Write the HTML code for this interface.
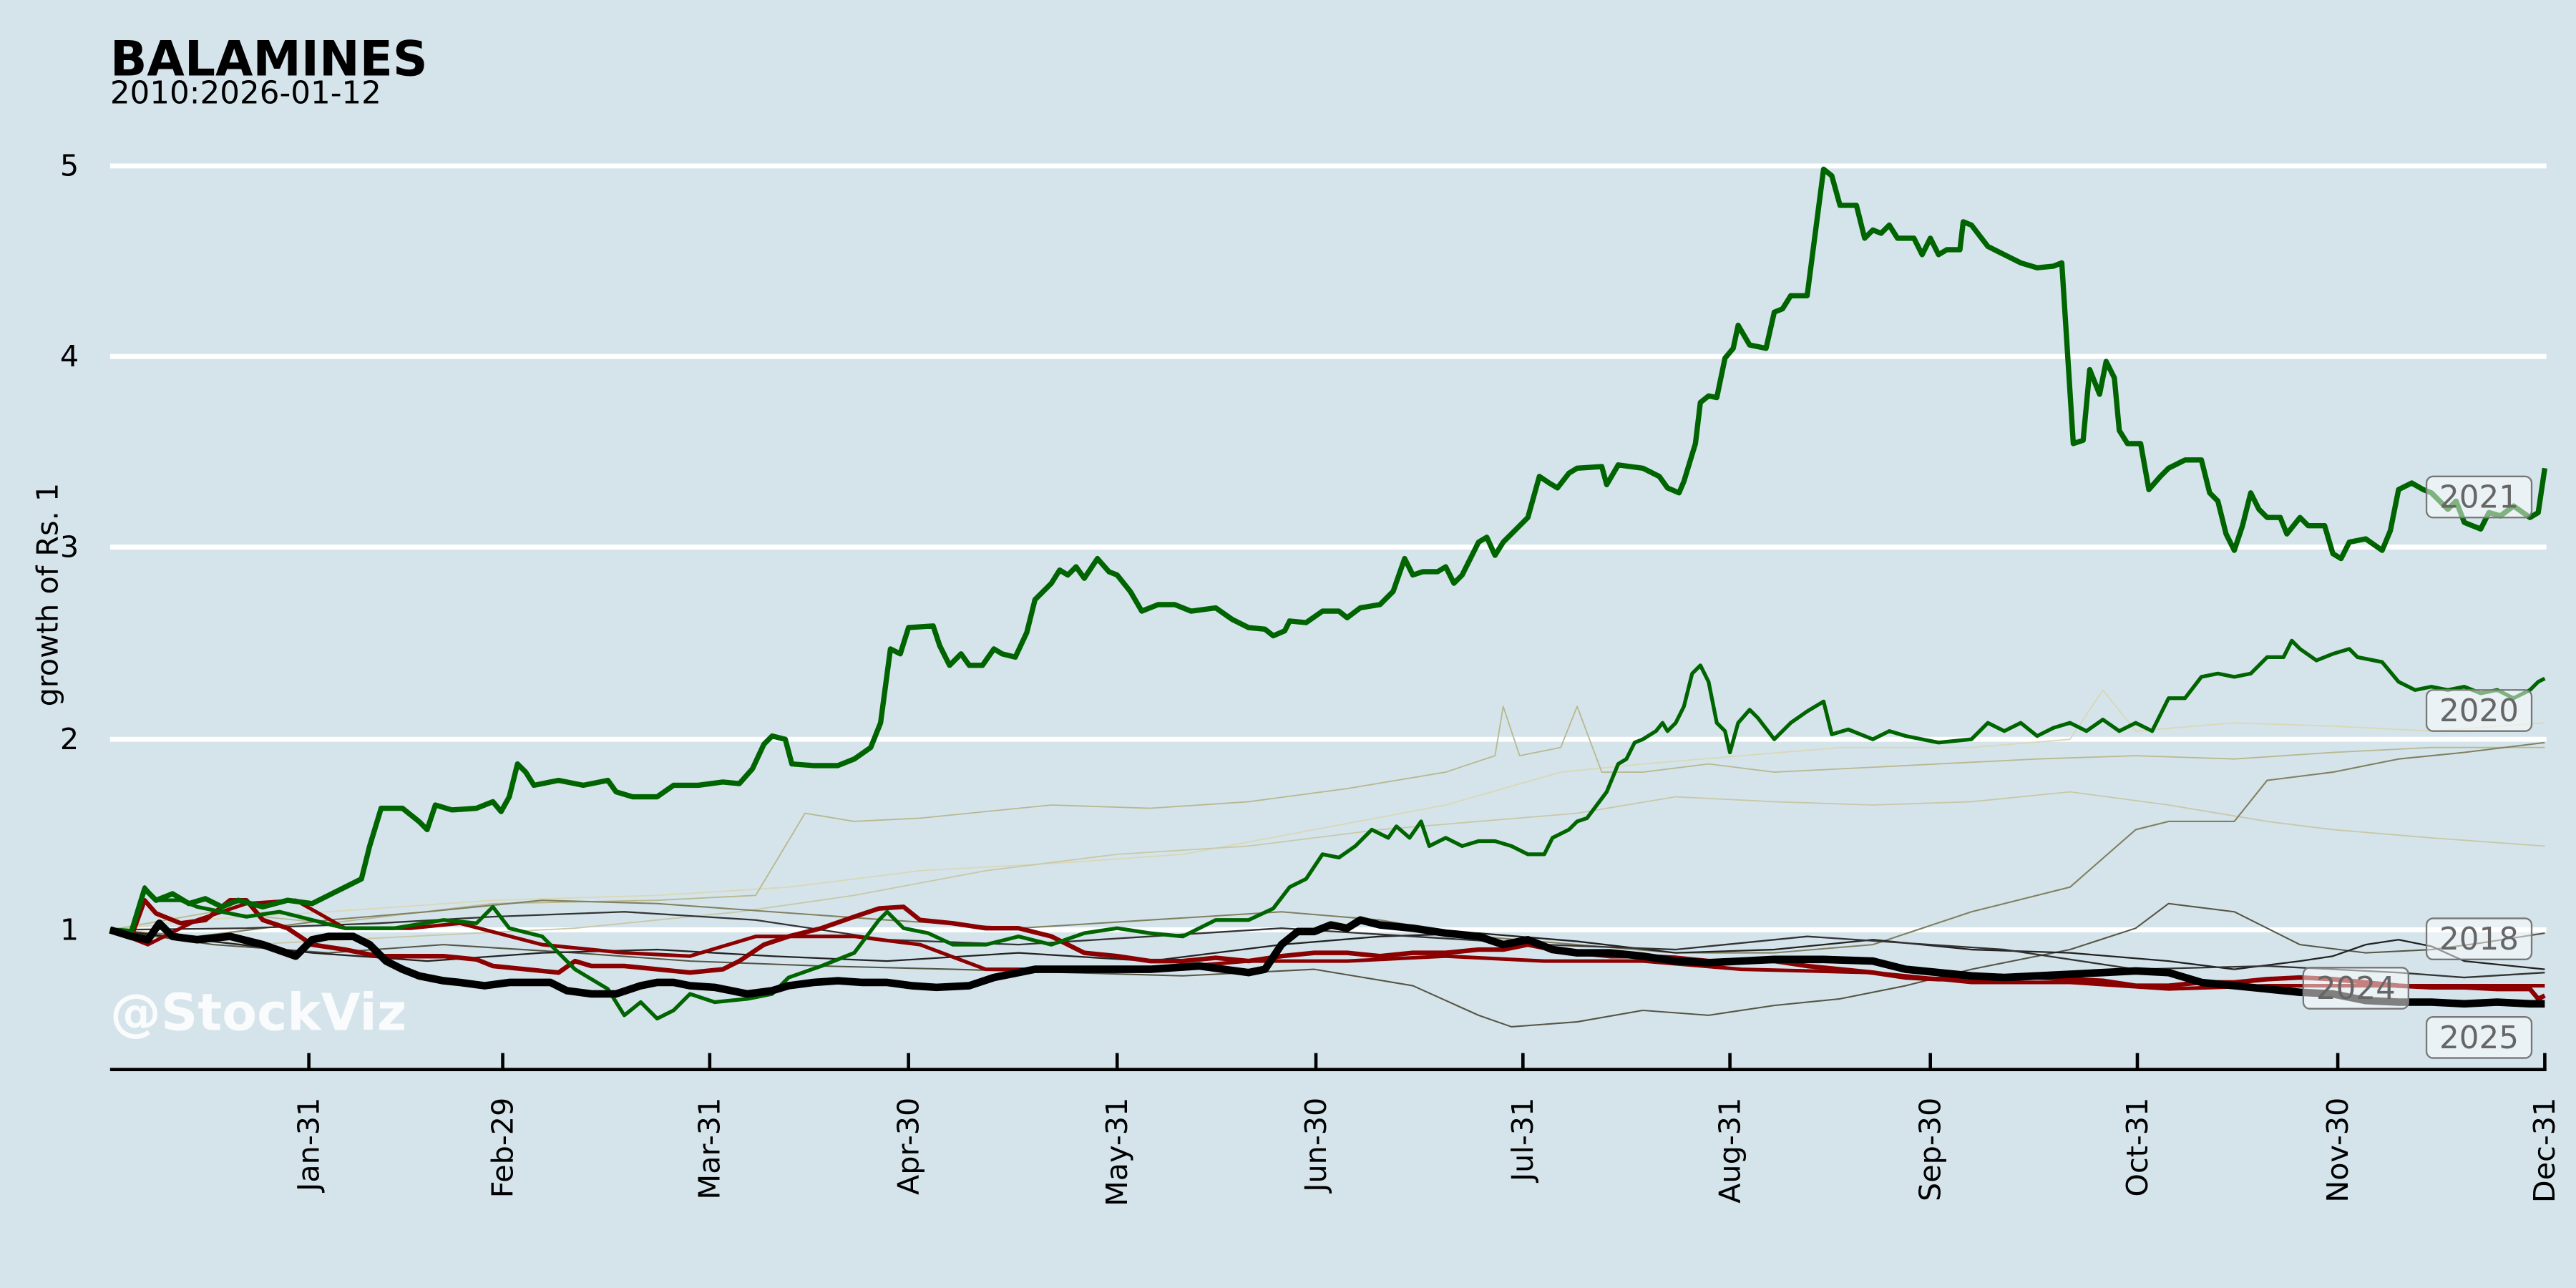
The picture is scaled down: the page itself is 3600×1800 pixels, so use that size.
<!DOCTYPE html>
<html><head><meta charset="utf-8"><style>html,body{margin:0;padding:0;background:#d5e4eb}svg{display:block}</style></head><body>
<svg width="3600" height="1800" viewBox="0 0 1568 784" xmlns="http://www.w3.org/2000/svg" font-family="DejaVu Sans, Liberation Sans, sans-serif">
<rect width="1568" height="784" fill="#d5e4eb"/>
<g stroke="#fff" stroke-width="3">
<line x1="67" x2="1550" y1="101" y2="101"/><line x1="67" x2="1550" y1="217" y2="217"/><line x1="67" x2="1550" y1="333" y2="333"/><line x1="67" x2="1550" y1="450" y2="450"/><line x1="67" x2="1550" y1="566" y2="566"/>
</g>
<g font-size="18" fill="#000" text-anchor="end">
<text x="48" y="107">5</text><text x="48" y="223">4</text><text x="48" y="339">3</text><text x="48" y="456">2</text><text x="48" y="572">1</text>
</g>
<text transform="translate(35,362) rotate(-90)" font-size="18" text-anchor="middle">growth of Rs. 1</text>
<text x="67" y="46" font-size="29.5" font-weight="bold">BALAMINES</text>
<text x="67" y="63" font-size="19">2010:2026-01-12</text>
<g fill="none" stroke-linejoin="round">
<polyline stroke="#d8d8b8" stroke-width="0.8" points="67,566 120,560 200,555 300,548 400,545 480,540 560,530 650,525 720,520 800,505 880,490 950,470 1000,465 1060,460 1120,455 1200,455 1260,450 1280,420 1300,445 1360,440 1420,442 1480,445 1549,440"/>
<polyline stroke="#b8b890" stroke-width="0.8" points="67,566 130,555 200,562 300,550 400,548 460,545 490,495 520,500 560,498 640,490 700,492 760,488 820,480 880,470 910,460 915,430 925,460 950,455 960,430 975,470 1000,470 1040,465 1080,470 1120,468 1180,465 1240,462 1300,460 1360,462 1420,458 1480,455 1549,455"/>
<polyline stroke="#c8c8a8" stroke-width="0.8" points="67,566 150,575 250,570 350,565 450,555 520,545 600,530 680,520 760,515 840,505 900,500 960,495 1020,485 1080,488 1140,490 1200,488 1260,482 1320,490 1380,500 1420,505 1480,510 1549,515"/>
<polyline stroke="#808060" stroke-width="0.9" points="67,566 120,570 200,560 260,555 330,548 400,550 470,555 540,560 620,565 700,560 780,555 840,560 900,570 960,575 1020,580 1080,580 1140,575 1200,555 1260,540 1300,505 1320,500 1360,500 1380,475 1420,470 1460,462 1500,458 1549,452"/>
<polyline stroke="#555545" stroke-width="0.9" points="67,566 130,575 200,580 270,575 350,580 420,585 500,588 580,590 650,592 720,594 800,590 860,600 900,618 920,625 960,622 1000,615 1040,618 1080,612 1120,608 1160,600 1200,590 1260,578 1300,565 1320,550 1360,555 1400,575 1440,580 1480,578 1510,574 1549,568"/>
<polyline stroke="#222" stroke-width="1" points="67,566 120,572 190,580 260,585 330,580 400,578 470,582 540,585 620,580 700,585 780,575 840,570 900,568 960,573 1020,580 1080,578 1140,572 1200,578 1260,580 1320,585 1360,590 1400,585 1420,582 1440,575 1460,572 1480,576 1500,585 1549,590"/>
<polyline stroke="#333" stroke-width="1" points="67,566 150,565 230,562 300,558 380,555 460,560 540,572 620,575 700,570 780,565 860,570 940,575 1020,578 1100,570 1160,574 1220,578 1300,590 1380,588 1420,590 1460,592 1500,595 1549,592"/>
<polyline stroke="#8b0000" stroke-width="2.2" points="67,566 90,575 120,560 150,550 180,548 210,565 250,565 280,562 330,575 380,580 420,582 460,570 520,570 560,575 600,590 660,590 700,590 760,585 820,585 880,582 940,585 1000,585 1060,590 1140,592 1200,598 1260,598 1320,602 1380,600 1440,600 1500,600 1549,600"/>
<polyline stroke="#8b0000" stroke-width="2.8" points="67,566 80,570 88,548 95,556 110,562 125,560 140,548 150,548 160,560 175,565 190,575 210,578 230,582 250,582 270,582 290,584 300,588 320,590 340,592 350,585 360,588 380,588 400,590 420,592 440,590 450,585 465,575 480,570 500,565 520,558 535,553 550,552 560,560 580,562 600,565 620,565 640,570 660,580 680,582 700,585 720,585 740,583 760,585 780,582 800,580 820,580 840,582 860,580 880,580 900,578 915,578 930,575 945,578 960,580 980,582 1000,582 1020,583 1040,585 1060,585 1080,585 1100,588 1120,590 1140,592 1160,595 1180,596 1200,596 1220,596 1240,595 1260,596 1280,597 1300,600 1320,600 1340,598 1360,598 1380,596 1400,595 1420,596 1440,598 1460,600 1480,601 1500,601 1520,602 1540,602 1545,608 1549,606"/>
<polyline stroke="#006400" stroke-width="2.3" points="67,566 80,568 88,540 95,548 110,548 120,552 135,555 150,558 170,555 190,560 210,565 240,565 270,560 290,562 300,552 310,565 330,570 350,590 370,602 380,618 390,610 400,620 410,615 420,605 435,610 455,608 470,605 480,595 500,588 520,580 535,560 540,555 550,565 565,568 580,575 600,575 620,570 640,575 660,568 680,565 700,568 720,570 740,560 760,560 775,553 785,540 795,535 805,520 815,522 825,515 835,505 845,510 850,503 858,510 865,500 870,515 880,510 890,515 900,512 910,512 920,515 930,520 940,520 945,510 955,505 960,500 966,498 972,490 978,482 985,465 990,462 995,452 1000,450 1008,445 1012,440 1015,445 1020,440 1025,430 1030,410 1035,405 1040,415 1045,440 1050,445 1053,458 1058,440 1065,432 1070,437 1080,450 1090,440 1100,433 1110,427 1115,447 1125,444 1140,450 1150,445 1160,448 1170,450 1180,452 1200,450 1210,440 1220,445 1230,440 1240,448 1250,443 1260,440 1270,445 1280,438 1290,445 1300,440 1310,445 1320,425 1330,425 1340,412 1350,410 1360,412 1370,410 1380,400 1390,400 1395,390 1400,395 1410,402 1420,398 1430,395 1435,400 1450,403 1460,415 1470,420 1480,418 1490,420 1500,418 1510,422 1520,420 1530,425 1540,420 1545,415 1549,413"/>
<polyline stroke="#006400" stroke-width="3.2" points="67,566 80,567 88,541 95,548 105,544 115,550 125,547 135,552 145,548 160,552 175,548 190,550 200,545 210,540 220,535 225,515 232,492 245,492 255,500 260,505 265,490 275,493 290,492 300,488 305,494 310,485 315,465 320,470 325,478 340,475 355,478 370,475 375,482 385,485 400,485 410,478 425,478 440,476 450,477 458,468 465,453 470,448 478,450 482,465 495,466 510,466 520,462 530,455 536,440 542,395 548,398 553,382 568,381 572,393 578,405 585,398 590,405 598,405 605,395 610,398 618,400 625,385 630,365 640,355 645,347 650,350 655,345 660,352 668,340 675,348 680,350 688,360 695,372 705,368 715,368 725,372 740,370 750,377 760,382 770,383 775,387 782,384 785,378 795,379 805,372 815,372 820,376 828,370 840,368 848,360 855,340 860,350 866,348 875,348 880,345 885,355 890,350 900,330 905,327 910,338 915,330 920,325 930,315 937,290 943,294 948,297 955,288 960,285 975,284 978,295 985,283 1000,285 1010,290 1015,297 1022,300 1025,293 1032,270 1035,245 1040,241 1045,242 1050,218 1055,212 1058,198 1065,210 1075,212 1080,190 1085,188 1090,180 1100,180 1110,103 1115,107 1120,125 1130,125 1135,145 1140,140 1145,142 1150,137 1155,145 1165,145 1170,155 1175,145 1180,155 1185,152 1193,152 1195,135 1200,137 1210,150 1220,155 1230,160 1240,163 1250,162 1255,160 1262,270 1268,268 1272,225 1278,240 1282,220 1287,230 1290,262 1295,270 1303,270 1308,298 1315,290 1320,285 1330,280 1340,280 1345,300 1350,305 1355,325 1360,335 1365,320 1370,300 1375,310 1380,315 1388,315 1392,325 1400,315 1405,320 1415,320 1420,337 1425,340 1430,330 1440,328 1450,335 1455,323 1460,298 1468,294 1475,298 1480,300 1490,310 1495,305 1500,318 1510,322 1515,312 1522,314 1530,308 1540,315 1545,312 1549,285"/>
<polyline stroke="#000" stroke-width="4.6" points="67,566 80,570 90,572 97,562 105,570 120,572 140,570 160,575 180,582 190,572 200,570 215,570 225,575 235,585 245,590 255,594 270,597 280,598 295,600 310,598 320,598 335,598 345,603 360,605 375,605 390,600 400,598 410,598 420,600 435,601 455,605 470,603 480,600 495,598 510,597 525,598 540,598 555,600 570,601 590,600 605,595 620,592 630,590 650,590 670,590 700,590 730,588 760,592 770,590 780,575 790,567 800,567 810,563 820,565 828,560 840,563 860,565 880,568 900,570 915,575 930,572 945,578 960,580 980,580 1000,582 1020,585 1040,586 1060,585 1080,584 1110,584 1140,585 1160,590 1180,592 1200,594 1220,595 1240,594 1260,593 1280,592 1300,591 1320,592 1340,598 1360,600 1380,602 1400,604 1420,605 1440,609 1460,610 1480,610 1500,611 1520,610 1540,611 1549,611"/>
</g>
<g font-size="19" fill="#666" text-anchor="middle">
<rect x="1477" y="290" width="64" height="25" rx="4" fill="#fff" fill-opacity="0.5" stroke="#777"/><text x="1509" y="309">2021</text>
<rect x="1477" y="420" width="64" height="25" rx="4" fill="#fff" fill-opacity="0.5" stroke="#777"/><text x="1509" y="439">2020</text>
<rect x="1477" y="559" width="64" height="25" rx="4" fill="#fff" fill-opacity="0.5" stroke="#777"/><text x="1509" y="578">2018</text>
<rect x="1402" y="589" width="64" height="25" rx="4" fill="#fff" fill-opacity="0.5" stroke="#777"/><text x="1434" y="608">2024</text>
<rect x="1477" y="619" width="64" height="25" rx="4" fill="#fff" fill-opacity="0.5" stroke="#777"/><text x="1509" y="638">2025</text>
</g>
<text x="67" y="627" font-size="31" font-weight="bold" fill="#fff" fill-opacity="0.85">@StockViz</text>
<line x1="67" x2="1550" y1="651" y2="651" stroke="#000" stroke-width="2"/>
<g stroke="#000" stroke-width="2">
<line x1="188" x2="188" y1="641" y2="651"/><line x1="306" x2="306" y1="641" y2="651"/><line x1="432" x2="432" y1="641" y2="651"/><line x1="553" x2="553" y1="641" y2="651"/><line x1="680" x2="680" y1="641" y2="651"/><line x1="801" x2="801" y1="641" y2="651"/><line x1="927" x2="927" y1="641" y2="651"/><line x1="1053" x2="1053" y1="641" y2="651"/><line x1="1175" x2="1175" y1="641" y2="651"/><line x1="1301" x2="1301" y1="641" y2="651"/><line x1="1423" x2="1423" y1="641" y2="651"/><line x1="1549" x2="1549" y1="641" y2="651"/>
</g>
<g font-size="18" fill="#000" text-anchor="end">
<text transform="translate(194,668) rotate(-90)">Jan-31</text>
<text transform="translate(312,668) rotate(-90)">Feb-29</text>
<text transform="translate(438,668) rotate(-90)">Mar-31</text>
<text transform="translate(559,668) rotate(-90)">Apr-30</text>
<text transform="translate(686,668) rotate(-90)">May-31</text>
<text transform="translate(807,668) rotate(-90)">Jun-30</text>
<text transform="translate(933,668) rotate(-90)">Jul-31</text>
<text transform="translate(1059,668) rotate(-90)">Aug-31</text>
<text transform="translate(1181,668) rotate(-90)">Sep-30</text>
<text transform="translate(1307,668) rotate(-90)">Oct-31</text>
<text transform="translate(1429,668) rotate(-90)">Nov-30</text>
<text transform="translate(1555,668) rotate(-90)">Dec-31</text>
</g>
</svg>
</body></html>
